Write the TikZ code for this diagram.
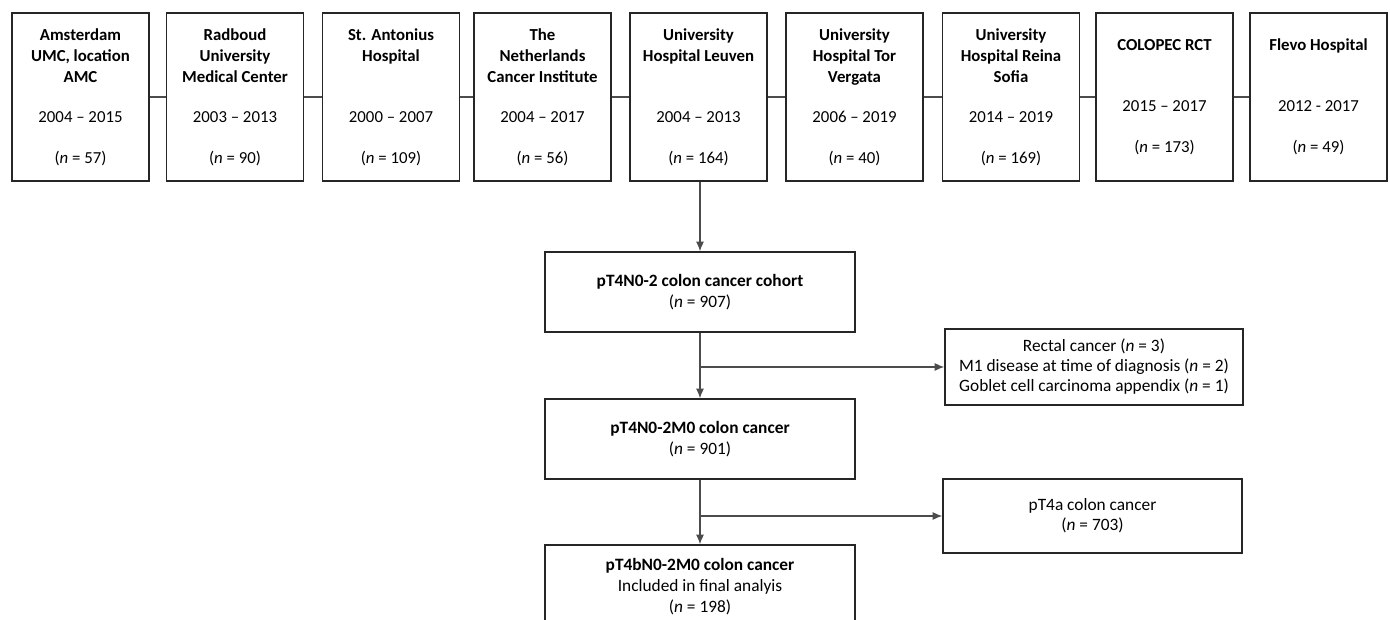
\documentclass[tikz,border=0pt]{standalone}
\usepackage{fontspec}
\setmainfont{Carlito}
\usetikzlibrary{arrows.meta}
\tikzset{
  site/.style={draw=black!85, line width=1.4pt, inner sep=0pt, align=center,
    minimum width=137*0.75pt, minimum height=168*0.75pt,
    font=\fontsize{12.6}{15.75}\selectfont},
  flowbox/.style={draw=black!85, line width=1.4pt, inner sep=0pt, align=center,
    minimum width=310*0.75pt, minimum height=80*0.75pt,
    font=\fontsize{13}{15.75}\selectfont},
  exclbox/.style={draw=black!85, line width=1.4pt, inner sep=0pt, align=center,
    minimum height=76*0.75pt,
    font=\fontsize{13}{15}\selectfont},
  link/.style={draw=black!70, line width=0.8pt},
  arrow/.style={draw=black!70, line width=0.8pt, -{Latex[length=7pt,width=6pt]}}
}
\begin{document}
\begin{tikzpicture}[x=0.75pt,y=-0.75pt]
\clip (0,0) rectangle (1390,620);
\fill[white] (0,0) rectangle (1390,620);

\node[site] (a1) at (80.5,97) {\textbf{Amsterdam}\\\textbf{UMC, location}\\\textbf{AMC}\\[14.5pt]2004 – 2015\\[15pt](\textit{n} = 57)};
\node[site] (a2) at (235,97) {\textbf{Radboud}\\\textbf{University}\\\textbf{Medical Center}\\[14.5pt]2003 – 2013\\[15pt](\textit{n} = 90)};
\node[site] (a3) at (391,97) {\textbf{St. Antonius}\\\textbf{Hospital}\\\mbox{}\\[14.5pt]2000 – 2007\\[15pt](\textit{n} = 109)};
\node[site] (a4) at (542.5,97) {\textbf{The}\\\textbf{Netherlands}\\\textbf{Cancer Institute}\\[14.5pt]2004 – 2017\\[15pt](\textit{n} = 56)};
\node[site] (a5) at (698.5,97) {\textbf{University}\\\textbf{Hospital Leuven}\\\mbox{}\\[14.5pt]2004 – 2013\\[15pt](\textit{n} = 164)};
\node[site] (a6) at (854.5,97) {\textbf{University}\\\textbf{Hospital Tor}\\\textbf{Vergata}\\[14.5pt]2006 – 2019\\[15pt](\textit{n} = 40)};
\node[site] (a7) at (1011,97) {\textbf{University}\\\textbf{Hospital Reina}\\\textbf{Sofia}\\[14.5pt]2014 – 2019\\[15pt](\textit{n} = 169)};
\node[site] (a8) at (1164.5,97) {\textbf{COLOPEC RCT}\\[30pt]2015 – 2017\\[15pt](\textit{n} = 173)};
\node[site] (a9) at (1318.5,97) {\textbf{Flevo Hospital}\\[30pt]2012 - 2017\\[15pt](\textit{n} = 49)};

\draw[link] (a1.east) -- (a2.west);
\draw[link] (a2.east) -- (a3.west);
\draw[link] (a3.east) -- (a4.west);
\draw[link] (a4.east) -- (a5.west);
\draw[link] (a5.east) -- (a6.west);
\draw[link] (a6.east) -- (a7.west);
\draw[link] (a7.east) -- (a8.west);
\draw[link] (a8.east) -- (a9.west);

\node[flowbox] (cohort) at (700,292) {\textbf{pT4N0-2 colon cancer cohort}\\(\textit{n} = 907)};
\node[flowbox] (mzero) at (700,439) {\textbf{pT4N0-2M0 colon cancer}\\(\textit{n} = 901)};
\node[flowbox, minimum height=84*0.75pt] (final) at (700,587) {\textbf{pT4bN0-2M0 colon cancer}\\Included in final analyis\\(\textit{n} = 198)};

\node[exclbox, minimum width=298*0.75pt] (excl) at (1094,367) {Rectal cancer (\textit{n} = 3)\\M1 disease at time of diagnosis (\textit{n} = 2)\\Goblet cell carcinoma appendix (\textit{n} = 1)};
\node[exclbox, minimum width=299*0.75pt, minimum height=74*0.75pt] (pta) at (1092.5,516) {pT4a colon cancer\\(\textit{n} = 703)};

\draw[arrow] (a5.south -| cohort.north) -- (cohort.north);
\draw[arrow] (cohort.south) -- (mzero.north);
\coordinate (b1) at (cohort.south |- excl.west);
\draw[arrow] (b1) -- (excl.west);
\draw[arrow] (mzero.south) -- (final.north);
\coordinate (b2) at (mzero.south |- pta.west);
\draw[arrow] (b2) -- (pta.west);
\end{tikzpicture}
\end{document}
